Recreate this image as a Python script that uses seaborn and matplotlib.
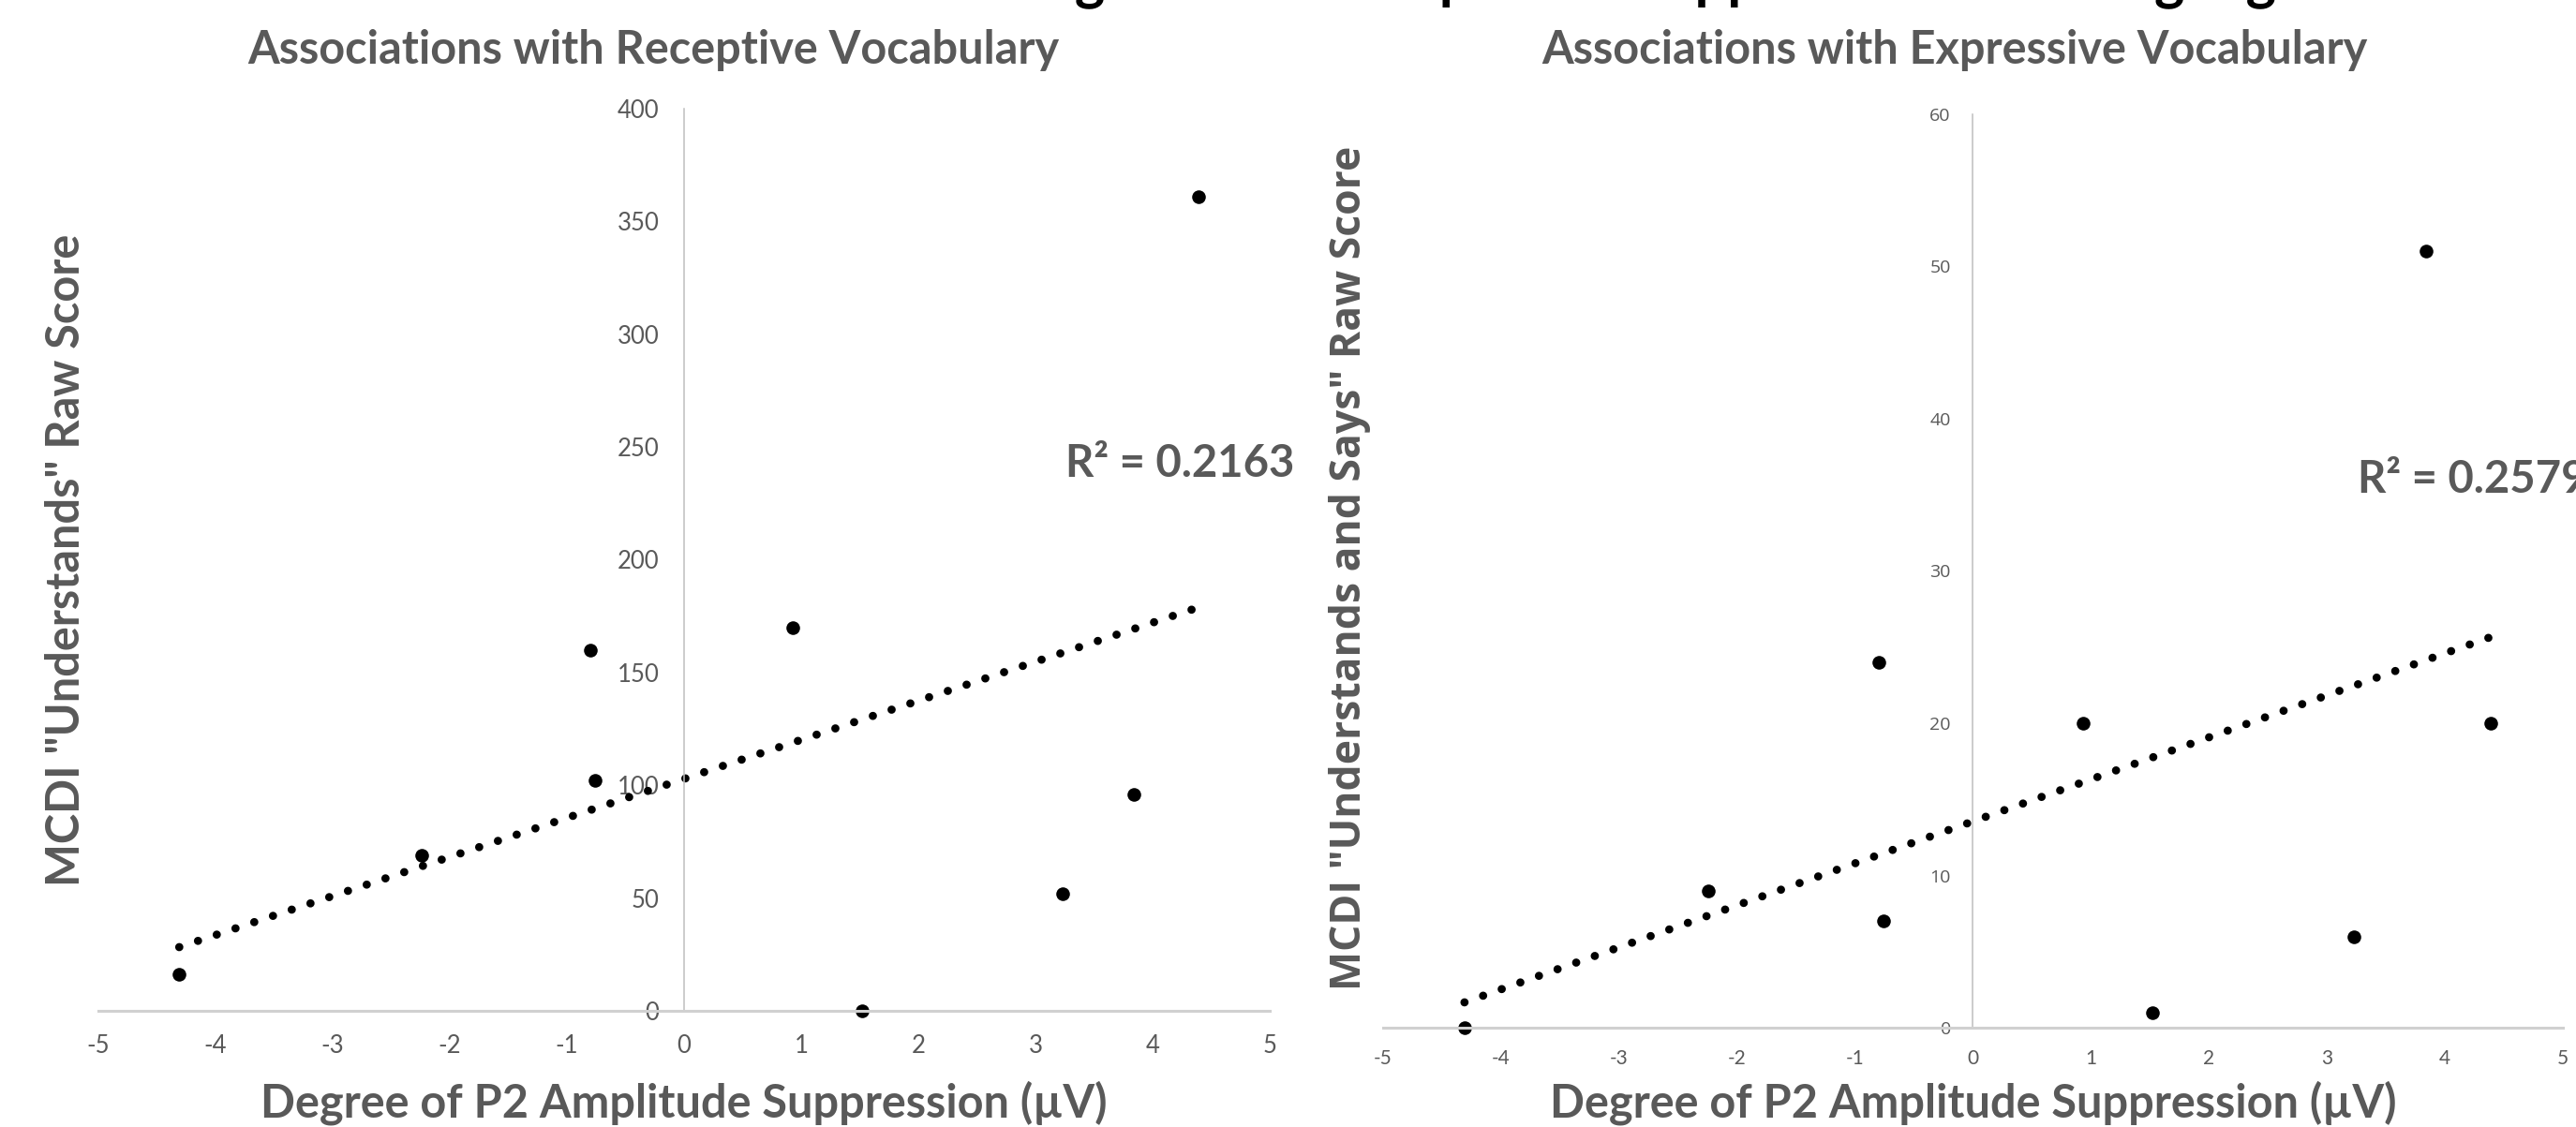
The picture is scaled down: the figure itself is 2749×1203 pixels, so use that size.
import numpy as np
import pandas as pd
import matplotlib
matplotlib.use("Agg")
import matplotlib.pyplot as plt
import seaborn as sns

# P2 suppression (uV) per child, same children in both panels
p2_suppression = [-4.31, -2.24, -0.80, -0.76, 0.93, 1.52, 3.23, 3.84, 4.39]
understands = [16, 69, 160, 102, 170, 0, 52, 96, 361]
understands_says = [0, 9, 24, 7, 20, 1, 6, 51, 20]

r2_receptive = "R\u00b2 = 0.2163"
r2_expressive = "R\u00b2 = 0.2579"

x_ticks = [-5, -4, -3, -2, -1, 0, 1, 2, 3, 4, 5]
rec_ticks = [0, 50, 100, 150, 200, 250, 300, 350, 400]
exp_ticks = [0, 10, 20, 30, 40, 50, 60]

suptitle = "Associations Between Degree of P2 Amplitude Suppression and Language"
titles = ["Associations with Receptive Vocabulary", "Associations with Expressive Vocabulary"]
xlab = "Degree of P2 Amplitude Suppression (\u00b5V)"
ylabs = ['MCDI "Understands" Raw Score', 'MCDI "Understands and Says" Raw Score']

df = pd.DataFrame({"p2": p2_suppression, "und": understands, "says": understands_says})

sns.set_style("white")
plt.rcParams["font.family"] = ["Lato", "DejaVu Sans"]
plt.rcParams["axes.unicode_minus"] = False
GREY = "#595959"

fig = plt.figure(figsize=(27.49, 12.03), dpi=100)
ax1 = fig.add_axes([0.0382, 0.1031, 0.4547, 0.8005])
ax2 = fig.add_axes([0.5369, 0.0881, 0.4580, 0.8105])

dot_line = dict(color="black", lw=6.3, linestyle=(0, (0.01, 2.4)), dash_capstyle="round")
pts = dict(s=110, color="black", linewidths=0, clip_on=False, alpha=1)

sns.regplot(data=df, x="p2", y="und", ax=ax1, ci=None, truncate=True,
            scatter_kws=pts, line_kws=dot_line)
sns.regplot(data=df, x="p2", y="says", ax=ax2, ci=None, truncate=True,
            scatter_kws=pts, line_kws=dot_line)

setup = [
    (ax1, rec_ticks, (0, 400), 18.5, 18, 19, "Lato", 18.5),
    (ax2, exp_ticks, (0, 60), 14, 16.5, 17, "Open Sans", 15),
]
for ax, yt, ylim, yfs, xpad, ypad, yfam, xfs in setup:
    ax.set_xlim(-5, 5)
    ax.set_ylim(*ylim)
    ax.set_xticks(x_ticks)
    ax.set_yticks(yt)
    for s in ["top", "right"]:
        ax.spines[s].set_visible(False)
    ax.spines["left"].set_position(("data", 0))
    ax.spines["left"].set_color("#bfbfbf")
    ax.spines["left"].set_linewidth(1.1)
    ax.spines["bottom"].set_color("#d0d0d0")
    ax.spines["bottom"].set_linewidth(2.2)
    ax.tick_params(axis="x", length=0, pad=xpad, labelsize=xfs, labelcolor=GREY)
    ax.tick_params(axis="y", length=0, pad=ypad, labelsize=yfs, labelcolor=GREY)
    for lab in ax.get_yticklabels():
        lab.set_family([yfam, "DejaVu Sans"])
    ax.grid(False)

# titles
ax1.text(0.474, 1.050, titles[0], transform=ax1.transAxes, ha="center", va="baseline",
         fontsize=35, fontweight="bold", color=GREY)
ax2.text(0.4845, 1.0555, titles[1], transform=ax2.transAxes, ha="center", va="baseline",
         fontsize=35, fontweight="bold", color=GREY)

# axis labels
ax1.set_xlabel(xlab, fontsize=35, fontweight="bold", color=GREY)
ax1.xaxis.set_label_coords(0.5, -0.0775)
ax2.set_xlabel(xlab, fontsize=35, fontweight="bold", color=GREY)
ax2.xaxis.set_label_coords(0.5, -0.058)

ax1.set_ylabel(ylabs[0], fontsize=35, fontweight="bold", color=GREY, va="center")
ax1.yaxis.set_label_coords(-0.028, 0.5)
ax2.set_ylabel(ylabs[1], fontsize=32, fontweight="bold", color=GREY, va="center",
               family=["Open Sans", "DejaVu Sans"])
ax2.yaxis.set_label_coords(-0.028, 0.503)

# R squared annotations
ax1.text(3.26, 242.6, r2_receptive, ha="left", va="center", fontsize=34,
         fontweight="bold", color=GREY)
ax2.text(3.26, 36.0, r2_expressive, ha="left", va="center", fontsize=34,
         fontweight="bold", color=GREY, clip_on=False)

# overall heading, mostly above the visible area
fig.text(0.53, 1.0025, suptitle, ha="center", va="baseline", fontsize=44,
         fontweight="bold", color="black")

fig.savefig("out.png", dpi=100)
